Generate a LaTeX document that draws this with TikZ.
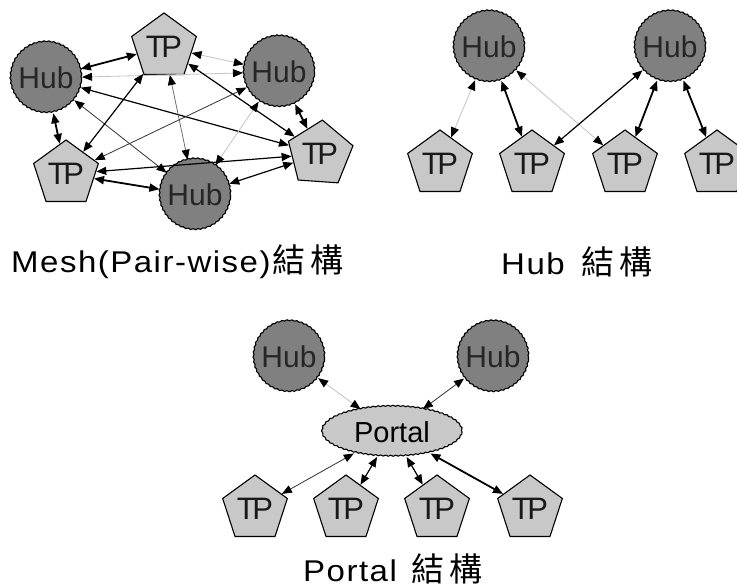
\documentclass[tikz,border=0pt]{standalone}
\usepackage{fontspec}
\setmainfont{Liberation Sans}
\newfontfamily\lbl[FakeStretch=1.1,LetterSpace=5]{Liberation Sans}
\newfontfamily\cjk[LetterSpace=15]{Noto Sans CJK TC}
\usetikzlibrary{shapes.geometric,arrows.meta,decorations.pathmorphing}
\definecolor{hubgray}{RGB}{128,128,128}
\definecolor{tpgray}{RGB}{200,200,200}
\definecolor{lgray}{RGB}{195,195,195}
\definecolor{mgray}{RGB}{110,110,110}
\tikzset{
  hub/.style={circle, minimum size=71pt, inner sep=0pt, fill=hubgray, draw=black,
    line width=1.1pt, decorate, decoration={snake, segment length=5pt, amplitude=0.5pt},
    font=\fontsize{30}{30}\selectfont, text=black!85},
  tp/.style={regular polygon, regular polygon sides=5, minimum size=68pt, inner sep=0pt,
    fill=tpgray, draw=black, line width=1.1pt, font=\fontsize{31}{31}\selectfont, text=black!90},
  portal/.style={ellipse, minimum width=140pt, minimum height=50pt, inner sep=0pt,
    fill=tpgray, draw=black, line width=1.1pt, decorate,
    decoration={snake, segment length=5pt, amplitude=0.5pt},
    font=\fontsize{29}{30}\selectfont},
  tip/.tip={Triangle[length=10pt,width=8pt,color=black]},
  link/.style={tip-tip},
  thk/.style={link, line width=1.8pt, draw=black},
  med/.style={link, line width=1.2pt, draw=black},
  thn/.style={link, line width=0.8pt, draw=black!80},
  mid/.style={link, line width=0.8pt, draw=mgray},
  lgt/.style={link, line width=0.8pt, draw=lgray},
  lab/.style={anchor=base west, inner sep=0pt, font=\lbl\fontsize{30}{30}\selectfont}
}
\newcommand{\TPtext}{T\kern-3.5pt P}
\newcommand{\jg}{{\cjk\fontsize{33}{33}\selectfont 結構}}
\begin{document}
\begin{tikzpicture}[x=1pt,y=-1pt]
\useasboundingbox (0,0) rectangle (737,588);
% ---------- Mesh ----------
\node[hub] (hl) at (46,78) {Hub};
\node[tp]  (tpt) at (164,47) {\TPtext};
\node[hub] (hr) at (279,72) {Hub};
\node[tp,shape border rotate=-4]  (tpr) at (320,154) {\TPtext};
\node[tp]  (tpl) at (66,174) {\TPtext};
\node[hub] (hb) at (195,195) {Hub};
\draw[thk] (hl) -- (tpt);
\draw[lgt] (tpt) -- (hr);
\draw[lgt] (hl) -- (hr);
\draw[med] (tpt) -- (tpr);
\draw[med] (hl) -- (tpr);
\draw[thn] (hl) -- (hb);
\draw[med] (tpt) -- (tpl);
\draw[thk] (hl) -- (tpl);
\draw[mid] (tpt) -- (hb);
\draw[thn] (hr) -- (tpl);
\draw[thk] (hr) -- (tpr);
\draw[lgt] (hr) -- (hb);
\draw[med] (tpl) -- (tpr);
\draw[thk] (tpl) -- (hb);
\draw[med] (hb) -- (tpr);
\node[lab] (meshlab) at (11,273) {Mesh(Pair-wise)\hspace{2pt}\jg};
% ---------- Hub ----------
\node[hub] (h1) at (489,47) {Hub};
\node[hub] (h2) at (670,47) {Hub};
\node[tp] (a1) at (440,164) {\TPtext};
\node[tp] (a2) at (532,164) {\TPtext};
\node[tp] (a3) at (625,164) {\TPtext};
\node[tp] (a4) at (717,164) {\TPtext};
\draw[lgt] (h1) -- (a1);
\draw[thk] (h1) -- (a2);
\draw[lgt] (h1) -- (a3);
\draw[med] (h2) -- (a2);
\draw[thk] (h2) -- (a3);
\draw[thk] (h2) -- (a4);
\node[lab] (hublab) at (501,275) {Hub\hspace{17pt}\jg};
% ---------- Portal ----------
\node[hub] (p1) at (289,357) {Hub};
\node[hub] (p2) at (493,357) {Hub};
\node[portal] (po) at (392,432) {Portal};
\node[tp] (b1) at (255,509) {\TPtext};
\node[tp] (b2) at (346,509) {\TPtext};
\node[tp] (b3) at (437,509) {\TPtext};
\node[tp] (b4) at (530,509) {\TPtext};
\draw[lgt] (p1) -- (po);
\draw[thn] (p2) -- (po);
\draw[thn] (po) -- (b1);
\draw[med] (po) -- (b2);
\draw[med] (po) -- (b3);
\draw[thk] (po) -- (b4);
\node[lab] (portallab) at (303,581) {Portal\hspace{15pt}\jg};
\end{tikzpicture}
\end{document}
